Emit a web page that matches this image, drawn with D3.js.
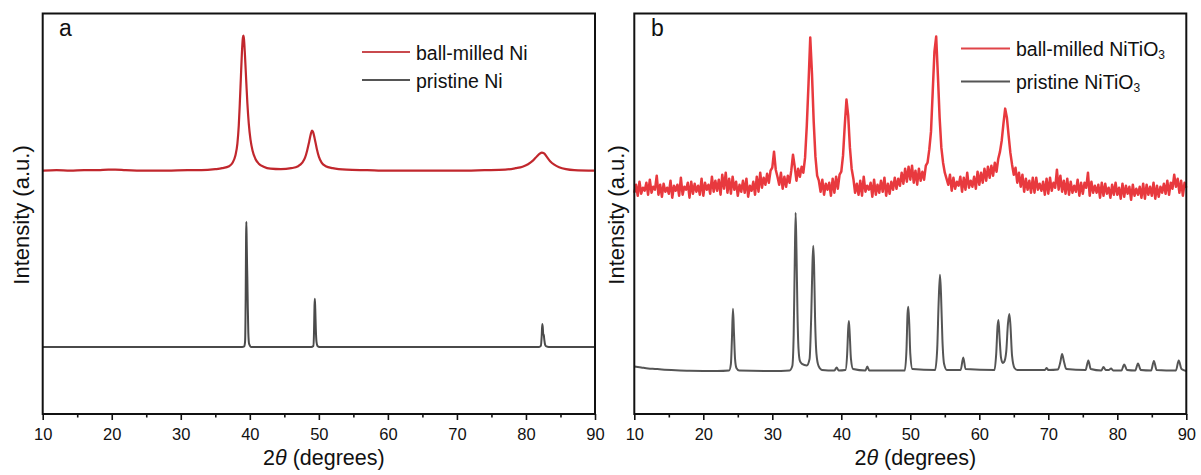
<!DOCTYPE html>
<html><head><meta charset="utf-8">
<script src="https://cdn.jsdelivr.net/npm/d3@7"></script>
<style>
body{margin:0;background:#fff}
svg{display:block}
text{font-family:"Liberation Sans",Arial,sans-serif;fill:#111}
</style>
</head><body>
<svg id="chart" width="1201" height="475"></svg>
<script>
// ---------- data (2θ in degrees, intensity in a.u.) ----------
const majorTicks = [10, 20, 30, 40, 50, 60, 70, 80, 90];
const minorTicks = [15, 25, 35, 45, 55, 65, 75, 85];

const seriesNamesA = ["ball-milled Ni", "pristine Ni"];
const seriesNamesB = ["ball-milled NiTiO", "pristine NiTiO"];

const aMilledNi = [
[10,243],[12,243.5],[14,243],[16,243.5],[18,243.5],[19.5,244],[20.5,244],[22,243.5],[25,243],[28,243],
[31,243.5],[33,243.5],[35,244.5],[36,245.5],[37,247.5],[37.5,251],[37.9,258],[38.2,270],[38.4,288],[38.55,310],
[38.7,335],[38.85,360],[39.0,376],[39.07,378],[39.15,375],[39.3,358],[39.5,330],[39.65,310],[39.85,290],[40.1,274],
[40.4,263],[40.8,255],[41.3,250],[42,247],[43,245],[44.5,244.5],[46,245.5],[47,247.5],[47.6,251],[48.0,256],
[48.3,263],[48.6,272],[48.85,280],[49.0,283],[49.15,282],[49.4,275],[49.7,265],[50.0,257],[50.4,251],[51,247.5],
[52,245.5],[54,244],[57,243.5],[60,243],[65,243],[70,243],[74,243.5],[77,244],[78.5,245.5],[79.5,247],
[80.3,249.5],[81.0,253],[81.6,257.5],[82.0,260],[82.3,261],[82.6,260.5],[83.0,257],[83.5,252.5],[84.1,249],[84.8,246.5],
[85.8,244.5],[87,243.5],[90,243]
];

const aPristineNi = [
[10,67],[20,67],[30,67],[38.9,67],[39.2,67.5],[39.32,73],[39.4,115],[39.46,178],[39.5,192],[39.55,172],
[39.6,150],[39.64,137],[39.7,110],[39.78,82],[39.9,70],[40.2,67],[48.9,67],[49.2,68],[49.3,82],[49.37,108],
[49.42,115],[49.48,105],[49.56,85],[49.66,72],[49.8,68],[50.1,67],[60,67],[70,67],[81.9,67],[82.15,68],
[82.28,78],[82.36,90],[82.43,87],[82.5,80],[82.58,79],[82.66,74],[82.78,69],[82.95,67.5],[83.3,67],[90,67]
];

const bPristineNiTiO3 = [
[10,47.5],[11,46.5],[12,45.5],[13,45],[14,44.5],[16,43.8],[18,43.3],[22,43],[23.75,43.5],[24.0,50],
[24.15,75],[24.3,105],[24.45,80],[24.6,55],[24.8,46],[25.2,43.5],[30,43],[32.5,43.5],[32.9,48],[33.1,80],
[33.25,150],[33.38,201],[33.5,165],[33.65,100],[33.8,65],[34.0,53],[34.3,50],[35.0,48.5],[35.4,55],[35.65,100],
[35.82,150],[35.94,168],[36.05,150],[36.2,95],[36.4,60],[36.7,48],[37.2,44],[39.0,43.5],[39.33,46.5],[39.6,43.5],
[40.6,44],[40.85,60],[41.0,85],[41.1,93],[41.22,80],[41.4,55],[41.7,45],[43.5,43.5],[43.77,47.5],[44.05,43.5],
[49.2,43.5],[49.45,65],[49.6,100],[49.71,107],[49.85,90],[50.0,60],[50.3,45],[53.6,44],[53.9,65],[54.1,110],
[54.3,139],[54.45,120],[54.65,75],[54.9,50],[55.3,44],[57.3,44],[57.68,56.5],[58.0,45],[62.2,44],[62.45,60],
[62.65,88],[62.78,94],[62.95,75],[63.15,56],[63.4,51],[63.6,52],[63.9,62],[64.15,90],[64.35,100],[64.5,90],
[64.75,58],[65.1,46],[65.5,44],[69.5,44],[69.77,46],[70.0,44],[71.4,44.5],[71.75,52],[72.0,60],[72.25,53],
[72.6,45],[75.4,44],[75.8,53.5],[76.15,45],[77.7,43.5],[78.0,47],[78.3,44],[78.8,44],[79.1,45.5],[79.4,43.5],
[80.6,43.5],[81.0,49.5],[81.4,44],[82.6,43.5],[83.0,50.5],[83.4,44],[84.9,43.5],[85.3,53],[85.7,44],[88.5,43.5],
[88.9,53.5],[89.3,45],[90,43]
];

// ball-milled NiTiO3, sampled every 0.25° from 10° to 90°
const bMilledStart = 10, bMilledStep = 0.25;
const bMilledNiTiO3 = [
221,229,218,232, 220,226,223,231, 219,234,221,227, 224,238,219,229, 217,230,222,226, //10-14
220,233,216,228, 223,229,218,236, 219,227,224,231, 216,232,220,230, 222,228,219,235, //15-19
218,231,224,229, 220,237,222,233, 223,234,219,239, 225,241,221,235, 220,237,224,232, //20-24
218,229,222,233, 221,235,217,228, 223,232,219,237, 222,241,226,236, 229,240,231,243, //25-29
246,262,244,237, 229,241,225,237, 227,238,231,243, 259,247,233,245, 237,247,241,256, //30-34
288,330,376,340, 292,257,238,233, 222,234,219,230, 224,231,218,235, 221,237,225,239, //35-39
242,258,288,314, 298,266,245,235, 221,230,219,233, 218,237,222,228, 224,231,217,234, //40-44
219,229,221,233, 222,236,218,230, 220,232,224,236, 225,235,228,241, 230,245,232,247, //45-49
234,248,231,243, 229,245,233,242, 234,248,251,264, 282,322,362,377, 338,296,266,251, //50-54
241,235,229,239, 223,236,225,232, 228,237,222,236, 224,241,226,233, 227,237,225,242, //55-59
229,241,231,245, 233,247,236,248, 238,251,242,255, 262,273,290,305, 296,278,261,249, //60-64
239,246,231,241, 227,239,222,235, 224,233,221,236, 221,236,224,230, 223,232,219,235, //65-69
220,236,223,231, 226,244,224,238, 222,233,220,235, 219,232,221,228, 222,234,218,231, //70-74
220,231,226,241, 218,232,221,228, 221,229,216,231, 218,230,220,226, 216,229,219,231, //75-79
219,226,215,230, 217,228,220,227, 214,229,218,225, 219,227,216,230, 215,229,219,227, //80-84
218,231,215,228, 217,227,221,230, 220,233,219,231, 225,239,227,235, 221,233,218,231, //85-89
226 //90
];

// ---------- drawing ----------
const svg = d3.select("#chart");
const yTop = 13.5, yBottom = 414;

function drawPanel(cfg) {
  const x = d3.scaleLinear().domain([10, 90]).range([cfg.x0, cfg.x1]);
  const y = d3.scaleLinear().domain([0, 400]).range([yBottom, yTop]);
  const g = svg.append("g");

  cfg.series.forEach(s => {
    const line = d3.line().x(d => x(d[0])).y(d => y(d[1]))
      .curve(s.smooth ? d3.curveMonotoneX : d3.curveLinear);
    g.append("path").datum(s.data)
      .attr("d", line)
      .attr("fill", "none")
      .attr("stroke", s.color)
      .attr("stroke-width", s.width)
      .attr("stroke-linejoin", "round");
  });

  // frame
  g.append("rect")
    .attr("x", x(10)).attr("y", yTop)
    .attr("width", x(90) - x(10)).attr("height", yBottom - yTop)
    .attr("fill", "none").attr("stroke", "#111").attr("stroke-width", 2);

  // axes
  const major = g.append("g").attr("transform", `translate(0,${yBottom})`)
    .call(d3.axisBottom(x).tickValues(majorTicks).tickSize(6).tickFormat(d3.format("d")));
  major.select(".domain").remove();
  major.selectAll(".tick line").attr("stroke", "#111").attr("stroke-width", 1.6);
  major.selectAll(".tick text").attr("y", 26).attr("dy", 0)
    .style("font-size", "16.5px").style("font-family", '"Liberation Sans",Arial,sans-serif').attr("fill", "#111");

  const minor = g.append("g").attr("transform", `translate(0,${yBottom})`)
    .call(d3.axisBottom(x).tickValues(minorTicks).tickSize(3.5).tickFormat(""));
  minor.select(".domain").remove();
  minor.selectAll(".tick line").attr("stroke", "#111").attr("stroke-width", 1.6);

  // axis titles
  const xt = g.append("text")
    .attr("x", (cfg.x0 + cfg.x1) / 2 + 5).attr("y", 465)
    .attr("text-anchor", "middle").style("font-size", "21.5px");
  xt.append("tspan").text("2");
  xt.append("tspan").attr("font-style", "italic").text("θ");
  xt.append("tspan").text(" (degrees)");

  g.append("text")
    .attr("transform", `translate(${cfg.yLabelX},215) rotate(-90)`)
    .attr("text-anchor", "middle").style("font-size", "22px")
    .text("Intensity (a.u.)");

  // panel letter
  g.append("text").attr("x", cfg.letterX).attr("y", 36)
    .style("font-size", "23px").text(cfg.letter);

  // legend
  cfg.series.forEach((s, i) => {
    const ly = cfg.legendY[i];
    g.append("line")
      .attr("x1", cfg.legendX1).attr("x2", cfg.legendX2)
      .attr("y1", ly).attr("y2", ly)
      .attr("stroke", s.legendColor).attr("stroke-width", 2);
    const t = g.append("text").attr("x", cfg.legendX2 + 6).attr("y", ly + 7.5)
      .style("font-size", "19.5px");
    t.append("tspan").text(s.name);
    if (s.sub) t.append("tspan").attr("dy", 3).style("font-size", "12px").text(s.sub);
  });
}

drawPanel({
  x0: 42.7, x1: 595, letter: "a", letterX: 59, yLabelX: 29,
  legendX1: 362, legendX2: 410, legendY: [52, 80],
  series: [
    {name: seriesNamesA[0], data: aMilledNi, color: "#c1272d", legendColor: "#c94a4e", width: 2.2, smooth: true},
    {name: seriesNamesA[1], data: aPristineNi, color: "#4a4a4a", legendColor: "#555", width: 2, smooth: true}
  ]
});

const bMilledPairs = bMilledNiTiO3.map((v, i) => [bMilledStart + i * bMilledStep, v]);

drawPanel({
  x0: 634.3, x1: 1186.3, letter: "b", letterX: 651, yLabelX: 624,
  legendX1: 961, legendX2: 1010, legendY: [48.5, 81.5],
  series: [
    {name: seriesNamesB[0], sub: "3", data: bMilledPairs, color: "#e8393e", legendColor: "#e04448", width: 2.5, smooth: false},
    {name: seriesNamesB[1], sub: "3", data: bPristineNiTiO3, color: "#555", legendColor: "#555", width: 2, smooth: true}
  ]
});
</script>
</body></html>
